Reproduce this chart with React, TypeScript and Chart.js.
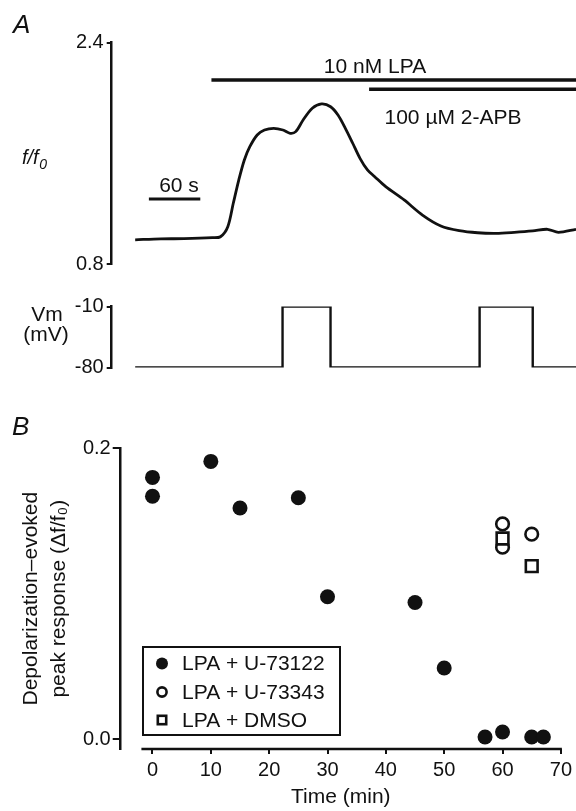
import React, { useEffect, useRef } from 'react';
import { Chart, registerables } from 'chart.js';

Chart.register(...registerables);

// ---------- Panel A: fluorescence trace (time in s, f/f0) ----------
const TRACE_TIME_S = [0, 30, 57, 90, 99.5, 108.1, 114.5, 120.9, 127.4, 133.8, 142.4, 150.9, 161.7, 172.4, 180.9, 187.4, 196, 206.7, 217.5, 228.1, 236.7, 245.3, 253.9, 262.4, 271.1, 279.6, 292.4, 313.9, 335.3, 356.8, 378.2, 399.7, 421.2, 442.5, 464, 481.2, 494, 514.5];
const TRACE_F = [0.975, 0.982, 0.983, 0.99, 0.997, 1.07, 1.239, 1.407, 1.552, 1.648, 1.733, 1.769, 1.781, 1.769, 1.745, 1.757, 1.841, 1.926, 1.957, 1.937, 1.877, 1.781, 1.673, 1.564, 1.48, 1.431, 1.359, 1.263, 1.154, 1.075, 1.041, 1.026, 1.022, 1.029, 1.039, 1.051, 1.029, 1.051];
const F_TICKS = [0.8, 2.4];
const LPA_BAR_S = [89, 514.5];
const LPA_BAR_LEVEL = 2.13;
const APB_BAR_S = [273, 514.5];
const APB_BAR_LEVEL = 2.063;
const SCALEBAR_S = [16, 76];
const SCALEBAR_LEVEL = 1.27;
const LPA_LABEL = '10 nM LPA';
const APB_LABEL = '100 µM 2-APB';
const SCALEBAR_LABEL = '60 s';

// ---------- Panel A: membrane potential ----------
const VM_TIME_S = [0, 172, 228, 402, 464, 514.5];
const VM_MV = [-80, -10, -80, -10, -80, -80];
const VM_TICKS = [-80, -10];

// ---------- Panel B ----------
const B_X_TICKS = [0, 10, 20, 30, 40, 50, 60, 70];
const B_Y_TICKS = [0, 0.2];
const U73122_MIN = [0, 0, 10, 15, 25, 30, 45, 50, 57, 60, 65, 67];
const U73122_RESP = [0.18, 0.167, 0.191, 0.159, 0.166, 0.098, 0.094, 0.049, 0.0015, 0.005, 0.0015, 0.0015];
const U73343_MIN = [60, 60, 65];
const U73343_RESP = [0.148, 0.132, 0.141];
const DMSO_MIN = [60, 65];
const DMSO_RESP = [0.138, 0.119];
const LEGEND_LABELS = ['LPA + U-73122', 'LPA + U-73343', 'LPA + DMSO'];

// ---------- styling ----------
const FONT = '"Liberation Sans", Arial, Helvetica, sans-serif';
const INK = '#111111';
const W = 576;
const H = 811;

const T_MIN = -27.4;
const T_MAX = 514.5;

function pts(xs: number[], ys: number[]) {
  return xs.map((x, i) => ({ x, y: ys[i] }));
}

function flat(xs: number[], level: number) {
  return xs.map((x) => ({ x, y: level }));
}

const hiddenX = (min: number, max: number) => ({
  type: 'linear' as const,
  display: false,
  min,
  max,
});

function yAxis(min: number, max: number, ticks: number[], width: number, tickLength: number, padding: number, fmt: (v: number) => string) {
  return {
    type: 'linear' as const,
    min,
    max,
    afterBuildTicks: (s: any) => {
      s.ticks = ticks.map((v) => ({ value: v }));
    },
    afterFit: (s: any) => {
      s.width = width;
    },
    grid: { display: true, drawOnChartArea: false, drawTicks: true, tickLength, color: INK, lineWidth: 2 },
    border: { display: true, color: INK, width: 2.5 },
    ticks: { font: { family: FONT, size: 20 }, color: INK, padding, callback: (v: any) => fmt(Number(v)) },
  };
}

const annotateA = {
  id: 'annotateA',
  afterDraw(chart: any) {
    const ctx = chart.ctx;
    ctx.save();
    ctx.fillStyle = INK;
    ctx.textBaseline = 'alphabetic';
    ctx.textAlign = 'left';
    ctx.font = `italic 26px ${FONT}`;
    ctx.fillText('A', 13, 33);
    ctx.font = `21px ${FONT}`;
    ctx.textAlign = 'center';
    ctx.fillText(LPA_LABEL, 375, 73);
    ctx.fillText(APB_LABEL, 453, 124);
    ctx.fillText(SCALEBAR_LABEL, 179, 192);
    ctx.textAlign = 'left';
    ctx.font = `italic 20px ${FONT}`;
    ctx.fillText('f/f', 22, 164);
    const w = ctx.measureText('f/f').width;
    ctx.font = `italic 14px ${FONT}`;
    ctx.fillText('0', 22 + w + 0.5, 169);
    ctx.restore();
  },
};

const annotateVm = {
  id: 'annotateVm',
  afterDraw(chart: any) {
    const ctx = chart.ctx;
    ctx.save();
    ctx.fillStyle = INK;
    ctx.textBaseline = 'alphabetic';
    ctx.textAlign = 'center';
    ctx.font = `21px ${FONT}`;
    ctx.fillText('Vm', 47, 321);
    ctx.fillText('(mV)', 46, 341);
    ctx.restore();
  },
};

const annotateB = {
  id: 'annotateB',
  afterDraw(chart: any) {
    const ctx = chart.ctx;
    const xs = chart.scales.x;
    const area = chart.chartArea;
    ctx.save();
    // offset x-axis line
    ctx.strokeStyle = INK;
    ctx.lineWidth = 2.5;
    ctx.beginPath();
    ctx.moveTo(xs.getPixelForValue(-1.9), area.bottom);
    ctx.lineTo(xs.getPixelForValue(70) + 1, area.bottom);
    ctx.stroke();

    ctx.fillStyle = INK;
    ctx.textBaseline = 'alphabetic';
    ctx.textAlign = 'left';
    ctx.font = `italic 26px ${FONT}`;
    ctx.fillText('B', 12, 435);

    // legend box
    const bx = 143, by = 647, bw = 197, bh = 88;
    ctx.lineWidth = 2;
    ctx.strokeRect(bx, by, bw, bh);
    const rows = [663.5, 692, 720];
    const mx = 162;
    ctx.font = `21px ${FONT}`;
    ctx.textBaseline = 'middle';
    LEGEND_LABELS.forEach((label, i) => {
      const y = rows[i];
      ctx.beginPath();
      if (i === 0) {
        ctx.arc(mx, y, 6, 0, Math.PI * 2);
        ctx.fillStyle = INK;
        ctx.fill();
      } else if (i === 1) {
        ctx.arc(mx, y, 4.6, 0, Math.PI * 2);
        ctx.lineWidth = 2.6;
        ctx.stroke();
      } else {
        ctx.lineWidth = 2.6;
        ctx.strokeRect(mx - 4.2, y - 4.2, 8.4, 8.4);
      }
      ctx.fillStyle = INK;
      ctx.fillText(label, 182, y + 1);
    });
    ctx.restore();
  },
};

export default function App() {
  const refA = useRef<HTMLCanvasElement>(null);
  const refVm = useRef<HTMLCanvasElement>(null);
  const refB = useRef<HTMLCanvasElement>(null);

  useEffect(() => {
    const base = {
      responsive: false,
      animation: false as const,
      devicePixelRatio: 1,
      events: [] as any[],
    };

    const chartA = new Chart(refA.current as HTMLCanvasElement, {
      type: 'line',
      data: {
        datasets: [
          { data: pts(TRACE_TIME_S, TRACE_F), borderColor: INK, borderWidth: 2.8, pointRadius: 0, tension: 0.3, fill: false },
          { data: flat(LPA_BAR_S, LPA_BAR_LEVEL), borderColor: INK, borderWidth: 3.5, pointRadius: 0, fill: false },
          { data: flat(APB_BAR_S, APB_BAR_LEVEL), borderColor: INK, borderWidth: 3.5, pointRadius: 0, fill: false },
          { data: flat(SCALEBAR_S, SCALEBAR_LEVEL), borderColor: INK, borderWidth: 3, pointRadius: 0, fill: false },
        ],
      },
      options: {
        ...base,
        layout: { padding: { left: 0, right: 0, top: 42.7, bottom: H - 264 } },
        plugins: { legend: { display: false }, tooltip: { enabled: false } },
        scales: {
          x: hiddenX(T_MIN, T_MAX),
          y: yAxis(0.8, 2.4, F_TICKS, 111.7, 5, 3, (v) => v.toFixed(1)),
        },
      } as any,
      plugins: [annotateA],
    });

    const chartVm = new Chart(refVm.current as HTMLCanvasElement, {
      type: 'line',
      data: {
        datasets: [
          { data: pts(VM_TIME_S, VM_MV), borderColor: INK, borderWidth: 2.4, pointRadius: 0, stepped: 'before', fill: false },
        ],
      },
      options: {
        ...base,
        layout: { padding: { left: 0, right: 0, top: 306.5, bottom: H - 367.5 } },
        plugins: { legend: { display: false }, tooltip: { enabled: false } },
        scales: {
          x: hiddenX(T_MIN, T_MAX),
          y: yAxis(-80, -10, VM_TICKS, 111.7, 5, 3, (v) => String(Math.round(v))),
        },
      } as any,
      plugins: [annotateVm],
    });

    const chartB = new Chart(refB.current as HTMLCanvasElement, {
      type: 'scatter',
      data: {
        datasets: [
          { label: LEGEND_LABELS[0], data: pts(U73122_MIN, U73122_RESP), pointStyle: 'circle', pointRadius: 7.5, backgroundColor: INK, borderColor: INK, borderWidth: 0, order: 2 },
          { label: LEGEND_LABELS[1], data: pts(U73343_MIN, U73343_RESP), pointStyle: 'circle', pointRadius: 6.3, backgroundColor: '#ffffff', borderColor: INK, borderWidth: 2.6, order: 1 },
          { label: LEGEND_LABELS[2], data: pts(DMSO_MIN, DMSO_RESP), pointStyle: 'rect', pointRadius: 8.3, backgroundColor: '#ffffff', borderColor: INK, borderWidth: 2.6, order: 0 },
        ],
      },
      options: {
        ...base,
        layout: { padding: { left: 0, right: 12, top: 448.3, bottom: 0 } },
        plugins: { legend: { display: false }, tooltip: { enabled: false } },
        scales: {
          x: {
            type: 'linear',
            min: -5.45,
            max: 70,
            afterBuildTicks: (s: any) => {
              s.ticks = B_X_TICKS.map((v) => ({ value: v }));
            },
            afterFit: (s: any) => {
              s.height = H - 749;
            },
            grid: { display: true, drawOnChartArea: false, drawTicks: true, tickLength: 5, color: INK, lineWidth: 2 },
            border: { display: false },
            ticks: { font: { family: FONT, size: 20 }, color: INK, padding: 4, maxRotation: 0, callback: (v: any) => String(v) },
            title: { display: true, text: 'Time (min)', color: INK, font: { family: FONT, size: 21 }, padding: { top: 0, bottom: 1 } },
          },
          y: {
            ...yAxis(-0.0067, 0.2, B_Y_TICKS, 120.7, 8, 2, (v) => v.toFixed(1)),
            title: {
              display: true,
              text: ['Depolarization–evoked', 'peak response (Δf/f₀)'],
              color: INK,
              font: { family: FONT, size: 21, lineHeight: 1.33 },
              padding: { top: 17, bottom: 0 },
            },
          },
        },
      } as any,
      plugins: [annotateB],
    });

    return () => {
      chartA.destroy();
      chartVm.destroy();
      chartB.destroy();
    };
  }, []);

  const cs: React.CSSProperties = { position: 'absolute', left: 0, top: 0, width: W, height: H };
  return (
    <div style={{ position: 'absolute', left: 0, top: 0, width: W, height: H, background: '#ffffff', overflow: 'hidden' }}>
      <canvas ref={refA} width={W} height={H} style={cs} />
      <canvas ref={refVm} width={W} height={H} style={cs} />
      <canvas ref={refB} width={W} height={H} style={cs} />
    </div>
  );
}
